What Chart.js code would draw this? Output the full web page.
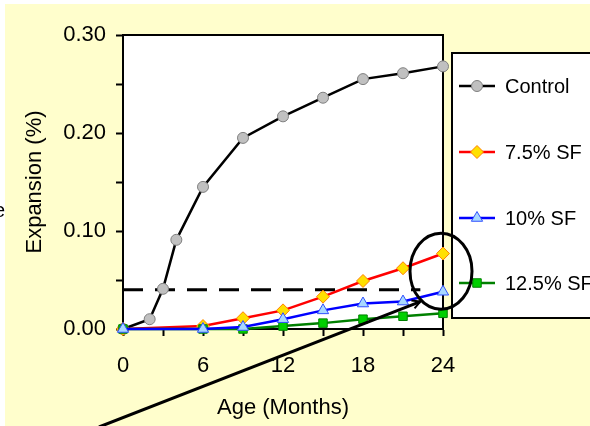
<!DOCTYPE html>
<html>
<head>
<meta charset="utf-8">
<script src="https://cdn.jsdelivr.net/npm/chart.js@4/dist/chart.umd.min.js"></script>
<style>
    html, body { margin: 0; padding: 0; background: #fff; }
    #wrap { width: 590px; height: 426px; }
</style>
</head>
<body>
<div id="wrap"><canvas id="expansionChart" width="590" height="426"></canvas></div>
<script>
// Données
const controlMonths = [0, 2, 3, 4, 6, 9, 12, 15, 18, 21, 24];
const controlValues = [0, 0.010, 0.041, 0.091, 0.145, 0.195, 0.217, 0.236, 0.255, 0.261, 0.268];
const sfMonths = [0, 6, 9, 12, 15, 18, 21, 24];
const sf75Values = [0, 0.003, 0.011, 0.019, 0.033, 0.049, 0.062, 0.077];
const sf10Values = [0, 0, 0.002, 0.010, 0.019, 0.026, 0.028, 0.038];
const sf125Values = [0, 0, 0, 0.003, 0.006, 0.010, 0.013, 0.016];
const seriesLabels = ['Control', '7.5% SF', '10% SF', '12.5% SF'];
const xTicks = [0, 6, 12, 18, 24];
const yTicks = [0.00, 0.10, 0.20, 0.30];
const limitValue = 0.04;
const limitEndMonth = 22.3;

const FONT = "'Liberation Sans', Arial, sans-serif";

function toPoints(months, values) {
    return months.map((m, i) => ({ x: m, y: values[i] }));
}

// Fond jaune + zone de tracé blanche + cadre
const backgroundPlugin = {
    id: 'background',
    beforeDraw(chart) {
        const { ctx, chartArea: a } = chart;
        ctx.save();
        ctx.fillStyle = '#ffffff';
        ctx.fillRect(0, 0, chart.width, chart.height);
        ctx.fillStyle = '#FFFECC';
        ctx.fillRect(5, 4, chart.width, chart.height);
        ctx.fillStyle = '#ffffff';
        ctx.fillRect(a.left, a.top, a.right - a.left, a.bottom - a.top);
        // fragment de texte coupé à gauche
        ctx.fillStyle = '#000';
        ctx.font = '20px ' + FONT;
        ctx.textBaseline = 'middle';
        ctx.fillText('e', -6, 211);
        ctx.restore();
    },
    beforeDatasetsDraw(chart) {
        const { ctx, chartArea: a, scales } = chart;
        ctx.save();
        ctx.strokeStyle = '#000';
        ctx.lineWidth = 2;
        ctx.beginPath();
        ctx.moveTo(a.left, a.top);
        ctx.lineTo(a.right, a.top);
        ctx.lineTo(a.right, a.bottom);
        ctx.stroke();
        // ligne limite en pointillés
        const y = scales.y.getPixelForValue(limitValue);
        ctx.lineWidth = 3;
        ctx.setLineDash([20, 12]);
        ctx.beginPath();
        ctx.moveTo(scales.x.getPixelForValue(0), y);
        ctx.lineTo(scales.x.getPixelForValue(limitEndMonth), y);
        ctx.stroke();
        ctx.restore();
    }
};

// Légende encadrée + ellipse + flèche
const legendBoxPlugin = {
    id: 'legendBox',
    afterDraw(chart) {
        const { ctx, scales } = chart;
        ctx.save();
        ctx.fillStyle = '#ffffff';
        ctx.strokeStyle = '#000';
        ctx.lineWidth = 2;
        ctx.fillRect(452, 53, 200, 265);
        ctx.strokeRect(452, 53, 200, 265);

        const rows = [86, 152, 218, 283];
        chart.data.datasets.forEach((ds, i) => {
            const y = rows[i];
            ctx.strokeStyle = ds.borderColor;
            ctx.lineWidth = 2.5;
            ctx.setLineDash([]);
            ctx.beginPath();
            ctx.moveTo(459, y);
            ctx.lineTo(495, y);
            ctx.stroke();
            ctx.fillStyle = ds.pointBackgroundColor;
            ctx.strokeStyle = ds.pointBorderColor;
            ctx.lineWidth = 1;
            Chart.helpers.drawPoint(ctx, {
                pointStyle: ds.pointStyle,
                radius: ds.pointRadius,
                rotation: 0,
                borderWidth: 1
            }, 477, y);
            ctx.fillStyle = '#000';
            ctx.font = '20px ' + FONT;
            ctx.textBaseline = 'middle';
            ctx.textAlign = 'left';
            ctx.fillText(ds.label, 505, y + 1);
        });

        // ellipse autour du point à 24 mois
        const cx = scales.x.getPixelForValue(24) - 2;
        const cy = scales.y.getPixelForValue(0.059);
        ctx.strokeStyle = '#000';
        ctx.lineWidth = 3;
        ctx.beginPath();
        ctx.ellipse(cx, cy, 31, 38, 0, 0, Math.PI * 2);
        ctx.stroke();

        // flèche
        const x0 = scales.x.getPixelForValue(-1.8), y0 = scales.y.getPixelForValue(-0.1);
        const x1 = scales.x.getPixelForValue(22.3), y1 = scales.y.getPixelForValue(0.028);
        ctx.beginPath();
        ctx.moveTo(x0, y0);
        ctx.lineTo(x1, y1);
        ctx.stroke();
        const ang = Math.atan2(y1 - y0, x1 - x0);
        ctx.lineWidth = 2;
        ctx.beginPath();
        ctx.moveTo(x1 - 9 * Math.cos(ang - 0.5), y1 - 9 * Math.sin(ang - 0.5));
        ctx.lineTo(x1, y1);
        ctx.lineTo(x1 - 9 * Math.cos(ang + 0.5), y1 - 9 * Math.sin(ang + 0.5));
        ctx.stroke();
        ctx.restore();
    }
};

const ctx = document.getElementById('expansionChart').getContext('2d');
new Chart(ctx, {
    type: 'line',
    data: {
        datasets: [{
            label: seriesLabels[0],
            data: toPoints(controlMonths, controlValues),
            order: 4,
            borderColor: '#000000',
            borderWidth: 2.5,
            pointStyle: 'circle',
            pointRadius: 5.5,
            pointBackgroundColor: '#C0C0C0',
            pointBorderColor: '#808080',
            pointBorderWidth: 1
        }, {
            label: seriesLabels[1],
            data: toPoints(sfMonths, sf75Values),
            order: 3,
            borderColor: '#FF0000',
            borderWidth: 2.5,
            pointStyle: 'rectRot',
            pointRadius: 6.5,
            pointBackgroundColor: '#FFE000',
            pointBorderColor: '#FF8000',
            pointBorderWidth: 1
        }, {
            label: seriesLabels[2],
            data: toPoints(sfMonths, sf10Values),
            order: 1,
            borderColor: '#0000FF',
            borderWidth: 2.5,
            pointStyle: 'triangle',
            pointRadius: 6.5,
            pointBackgroundColor: '#A8D8FF',
            pointBorderColor: '#3050FF',
            pointBorderWidth: 1
        }, {
            label: seriesLabels[3],
            data: toPoints(sfMonths, sf125Values),
            order: 2,
            borderColor: '#008000',
            borderWidth: 2.5,
            pointStyle: 'rect',
            pointRadius: 6,
            pointBackgroundColor: '#00D000',
            pointBorderColor: '#008000',
            pointBorderWidth: 1
        }]
    },
    options: {
        responsive: false,
        animation: false,
        clip: false,
        layout: { padding: { left: 0, top: 35, right: 147, bottom: 0 } },
        elements: { line: { tension: 0 } },
        plugins: {
            legend: { display: false },
            tooltip: { enabled: false }
        },
        scales: {
            x: {
                type: 'linear',
                min: 0,
                max: 24,
                afterFit: function(scale) { scale.height = 97; },
                ticks: {
                    stepSize: 3,
                    padding: 17,
                    color: '#000',
                    font: { family: FONT, size: 22 },
                    maxRotation: 0,
                    callback: function(value) {
                        return xTicks.includes(value) ? String(value) : '';
                    }
                },
                grid: {
                    drawOnChartArea: false,
                    tickLength: 7,
                    tickWidth: 2,
                    tickColor: '#000'
                },
                border: { display: true, color: '#000', width: 2 },
                title: {
                    display: true,
                    text: 'Age (Months)',
                    color: '#000',
                    font: { family: FONT, size: 22 },
                    padding: { top: 0, bottom: 5 }
                }
            },
            y: {
                min: 0,
                max: 0.30,
                afterFit: function(scale) { scale.width = 123; },
                ticks: {
                    stepSize: 0.05,
                    padding: 10,
                    color: '#000',
                    font: { family: FONT, size: 22 },
                    callback: function(value) {
                        const hit = yTicks.find(t => Math.abs(t - value) < 1e-6);
                        return hit !== undefined ? hit.toFixed(2) : '';
                    }
                },
                grid: {
                    drawOnChartArea: false,
                    tickLength: 7,
                    tickWidth: 2,
                    tickColor: '#000'
                },
                border: { display: true, color: '#000', width: 2 },
                title: {
                    display: true,
                    text: 'Expansion (%)',
                    color: '#000',
                    font: { family: FONT, size: 22 },
                    padding: { top: 22, bottom: 0 }
                }
            }
        }
    },
    plugins: [backgroundPlugin, legendBoxPlugin]
});
</script>
</body>
</html>
